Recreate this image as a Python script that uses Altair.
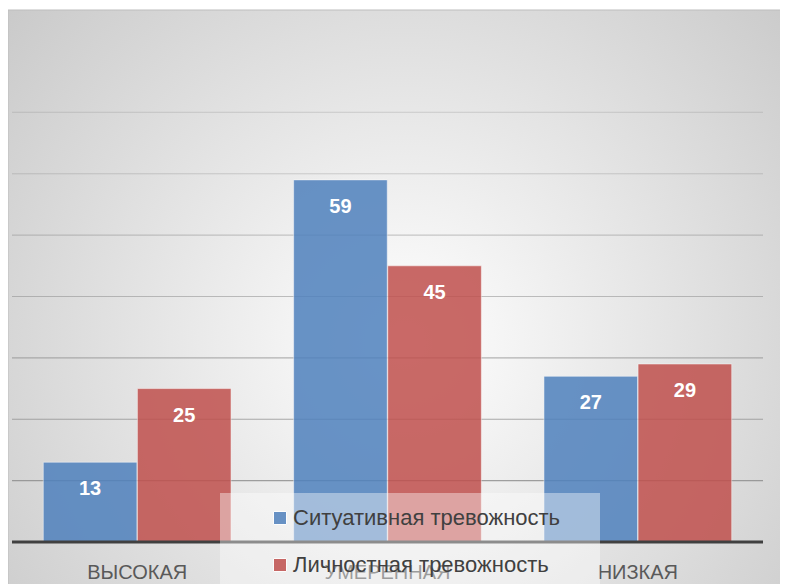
import altair as alt
import pandas as pd

# ---- data ----
categories = ["ВЫСОКАЯ", "УМЕРЕННАЯ", "НИЗКАЯ"]
series_names = ["Ситуативная тревожность", "Личностная тревожность"]
situational = [13, 59, 27]
personal = [25, 45, 29]
grid_values = [10, 20, 30, 40, 50, 60, 70]
series_colors = ["#4f81bd", "#c0504d"]

rows = []
for i, c in enumerate(categories):
    rows.append({"cat": c, "series": series_names[0], "value": situational[i]})
    rows.append({"cat": c, "series": series_names[1], "value": personal[i]})
df = pd.DataFrame(rows)
grid_df = pd.DataFrame({"v": grid_values})
base_df = pd.DataFrame({"v": [0]})
cat_df = pd.DataFrame({"cat": categories})
one_df = pd.DataFrame({"a": [0]})

W, H = 751, 491
FONT = "Liberation Sans"

yscale = alt.Scale(domain=[0, 80], nice=False, zero=True)
xscale = alt.Scale(paddingInner=0.25, paddingOuter=0.125)
offscale = alt.Scale(paddingInner=0.005)

bg = alt.Chart(one_df).mark_rect(
    fill=alt.RadialGradient(
        gradient="radial",
        stops=[alt.GradientStop(offset=0, color="#ffffff"),
               alt.GradientStop(offset=1, color="#c2c2c2")],
        x1=0.5, y1=0.55, r1=0, x2=0.5, y2=0.55, r2=0.75,
    ),
    stroke="#bdbdbd", strokeWidth=1,
).encode(x=alt.value(-4), x2=alt.value(790), y=alt.value(-41), y2=alt.value(545))

grid = alt.Chart(grid_df).mark_rule(color="#8a8a8a", strokeWidth=1.2).encode(
    y=alt.Y("v:Q", scale=yscale, axis=None),
    x=alt.value(0), x2=alt.value(W),
    opacity=alt.Opacity("v:Q", scale=alt.Scale(domain=[10, 70], range=[0.8, 0.25]), legend=None),
)

bars = alt.Chart(df).mark_bar(opacity=0.85, stroke="#ffffff", strokeWidth=1, strokeOpacity=0.5).encode(
    x=alt.X("cat:N", sort=categories, scale=xscale, axis=None),
    xOffset=alt.XOffset("series:N", sort=series_names, scale=offscale),
    y=alt.Y("value:Q", scale=yscale, axis=None),
    color=alt.Color(
        "series:N", sort=series_names,
        scale=alt.Scale(domain=series_names, range=series_colors),
        legend=alt.Legend(
            orient="none", legendX=257, legendY=456, title=None,
            labelFontSize=22, labelColor="#404040", labelFont=FONT,
            symbolType="square", symbolSize=169, symbolOpacity=0.85,
            symbolStrokeColor="#ffffff", symbolStrokeWidth=1,
            rowPadding=25, labelOffset=2, padding=0, labelLimit=500,
            direction="vertical",
        ),
    ),
)

labels = alt.Chart(df).mark_text(
    color="#ffffff", fontWeight="bold", fontSize=20, font=FONT, baseline="middle", dy=27
).encode(
    x=alt.X("cat:N", sort=categories, scale=xscale, axis=None),
    xOffset=alt.XOffset("series:N", sort=series_names, scale=offscale),
    y=alt.Y("value:Q", scale=yscale, axis=None),
    text=alt.Text("value:Q"),
)

baseline = alt.Chart(base_df).mark_rule(color="#404040", strokeWidth=3).encode(
    y=alt.Y("v:Q", scale=yscale, axis=None),
    x=alt.value(0), x2=alt.value(W),
)

cat_labels = alt.Chart(cat_df).mark_text(
    fontSize=20, font=FONT, color="#595959", baseline="middle"
).encode(
    x=alt.X("cat:N", sort=categories, scale=xscale, axis=None),
    y=alt.value(H + 31),
    text="cat:N",
)

legend_box = alt.Chart(one_df).mark_rect(fill="#ffffff", opacity=0.4).encode(
    x=alt.value(208), x2=alt.value(588), y=alt.value(442), y2=alt.value(545)
)

chart = alt.layer(bg, grid, bars, labels, baseline, cat_labels, legend_box).properties(
    width=W, height=H,
    autosize=alt.AutoSizeParams(type="none"),
    padding={"left": 4, "top": 43, "right": 17, "bottom": 42},
    background="#ffffff",
).configure_view(stroke=None)

chart.save("out.html", embed_options={"renderer": "svg", "actions": False})
